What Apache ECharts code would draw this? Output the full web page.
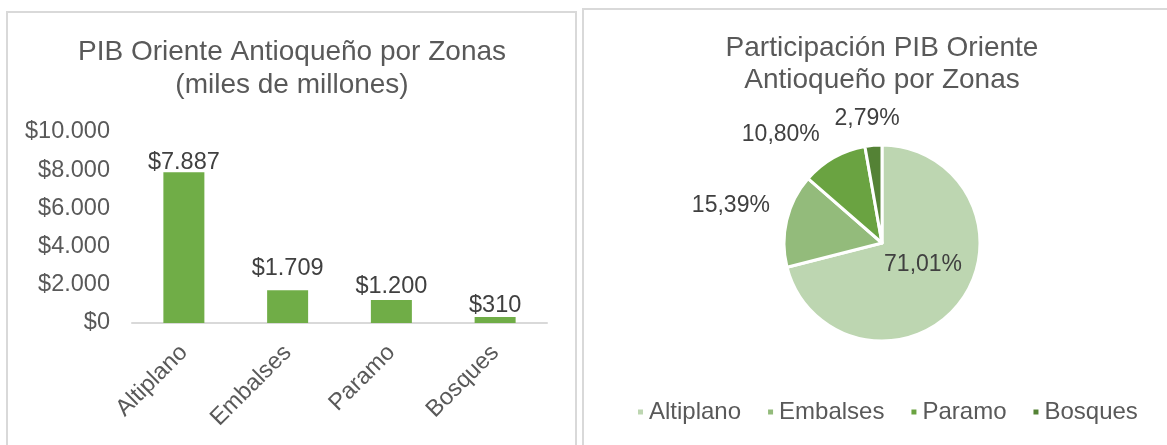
<!DOCTYPE html>
<html>
<head>
<meta charset="utf-8">
<script src="https://cdn.jsdelivr.net/npm/echarts@6/dist/echarts.min.js"></script>
<style>
  html, body { margin: 0; padding: 0; background: #fff; }
  #wrap { position: relative; width: 1167px; height: 445px; overflow: hidden; }
  .panel { position: absolute; border: 2px solid #d9d9d9; background: #fff; }
  #chart { position: absolute; left: 0; top: 0; width: 1167px; height: 445px; }
</style>
</head>
<body>
<div id="wrap">
  <div class="panel" style="left:6px; top:11px; width:567px; height:450px;"></div>
  <div class="panel" style="left:582px; top:8px; width:600px; height:450px;"></div>
  <div id="chart"></div>
</div>
<script>
// PIB por zona (miles de millones)
const zonas = ['Altiplano', 'Embalses', 'Paramo', 'Bosques'];
const pib = [7887, 1709, 1200, 310];
// participación (%) tal como aparece en la torta
const participacion = [71.01, 15.39, 10.80, 2.79];
const yTicks = [0, 2000, 4000, 6000, 8000, 10000];

const pieColors = ['#bdd6b1', '#93bb7b', '#6aa341', '#548235'];
const font = 'Liberation Sans, Arial, sans-serif';
// ajustes de etiquetas (como en el original de Excel)
const barLabelOffsets = [[0, 2], [0, -10], [0, -2], [0, 0]];
const pieLabelOffsets = [[0, -10], [-4, -13], [-5, -16], [32, -19]];

function miles(v) {
  return '$' + String(v).replace(/\B(?=(\d{3})+(?!\d))/g, '.');
}
function pct(v) {
  return v.toFixed(2).replace('.', ',') + '%';
}

const chart = echarts.init(document.getElementById('chart'));

const barData = pib.map((v, i) => ({ value: v, label: { offset: barLabelOffsets[i] } }));

const pieData = zonas.map((z, i) => {
  const item = { name: z, value: participacion[i], label: { offset: pieLabelOffsets[i] } };
  if (i === 0) item.label.position = 'inside';
  return item;
});

const option = {
  animation: false,
  textStyle: { fontFamily: font },
  title: [
    {
      text: 'PIB Oriente Antioqueño por Zonas\n(miles de millones)',
      left: 287, top: 31, textAlign: 'center',
      textStyle: { fontSize: 28, fontWeight: 'normal', color: '#595959', lineHeight: 33, fontFamily: font }
    },
    {
      text: 'Participación PIB Oriente\nAntioqueño por Zonas',
      left: 877, top: 27, textAlign: 'center',
      textStyle: { fontSize: 28, fontWeight: 'normal', color: '#595959', lineHeight: 32, fontFamily: font }
    }
  ],
  grid: { left: 132, top: 132, width: 415, height: 191 },
  xAxis: {
    type: 'category',
    data: zonas,
    axisLine: { lineStyle: { color: '#d9d9d9', width: 2 } },
    axisTick: { show: false },
    axisLabel: { rotate: 45, fontSize: 23.5, color: '#595959', margin: 26, fontFamily: font }
  },
  yAxis: {
    type: 'value',
    min: yTicks[0],
    max: yTicks[yTicks.length - 1],
    interval: yTicks[1] - yTicks[0],
    splitLine: { show: false },
    axisLine: { show: false },
    axisTick: { show: false },
    axisLabel: { fontSize: 23.5, color: '#595959', margin: 22, formatter: miles, fontFamily: font }
  },
  legend: {
    data: zonas,
    left: 636, top: 400, padding: 0,
    icon: 'rect', itemWidth: 7, itemHeight: 7, itemGap: 25,
    textStyle: { fontSize: 24, color: '#595959', fontFamily: font }
  },
  series: [
    {
      type: 'bar',
      data: barData,
      barWidth: 41,
      itemStyle: { color: '#70ad47' },
      label: {
        show: true, position: 'top', distance: 0,
        fontSize: 23.5, color: '#404040', formatter: p => miles(p.value), fontFamily: font
      }
    },
    {
      type: 'pie',
      center: [882, 243],
      radius: 98,
      startAngle: 90,
      clockwise: true,
      avoidLabelOverlap: false,
      data: pieData,
      color: pieColors,
      itemStyle: { borderColor: '#fff', borderWidth: 3 },
      label: {
        show: true, position: 'outside',
        fontSize: 23, color: '#404040', fontFamily: font,
        formatter: p => pct(p.value)
      },
      labelLine: { show: false, length: 8, length2: 0 },
      emphasis: { disabled: true }
    }
  ]
};

chart.setOption(option);
</script>
</body>
</html>
